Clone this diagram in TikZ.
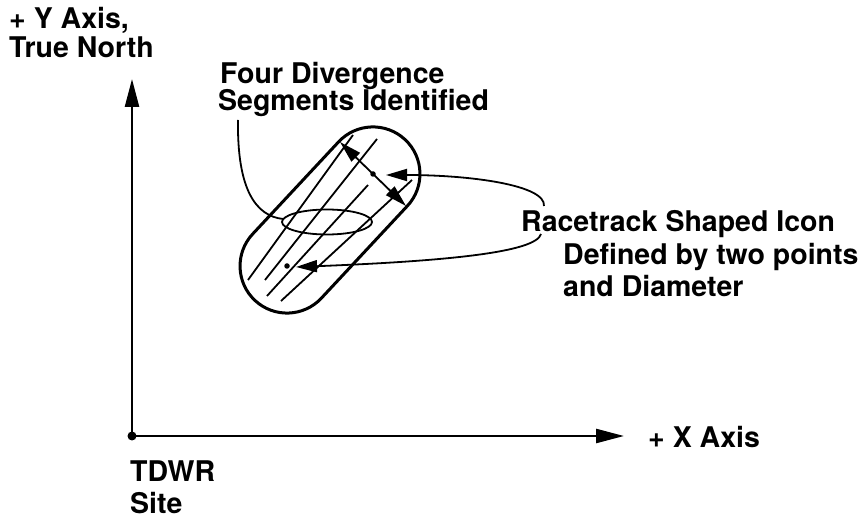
\documentclass[tikz,border=0pt]{standalone}
\usepackage{fontspec}
\setmainfont{TeX Gyre Heros}
\usetikzlibrary{arrows.meta}
\begin{document}
\begin{tikzpicture}[x=1pt,y=-1pt,
  lbl/.style={anchor=base west,inner sep=0pt,font=\fontsize{28.5}{30}\selectfont\bfseries},
  axis/.style={line width=2.5pt,-{Triangle[length=28pt,width=14pt]}},
  hatch/.style={line width=1.8pt},
  callout/.style={line width=1.8pt},
  ptr/.style={line width=1.8pt,-{Triangle[length=21pt,width=12pt]}},
  dot/.style={circle,fill=black,inner sep=0pt,minimum size=#1}]
\useasboundingbox (0,0) rectangle (865,518);
% axes
\node[dot=9pt] (O) at (132,436) {};
\coordinate (Ytip) at (132,79);
\coordinate (Xtip) at (624,436);
\draw[axis] (O.center) -- (Ytip);
\draw[axis] (O.center) -- (Xtip);
% racetrack
\coordinate (P1) at (287,266);
\coordinate (P2) at (373,174);
\begin{scope}[shift={(330,220)},rotate=47]
  \draw[line width=3pt,rounded corners=47pt] (-110pt,-47pt) rectangle (110pt,47pt);
\end{scope}
% hatching segments
\draw[hatch] (353,135) -- (248,280);
\draw[hatch] (377,139) -- (265,280);
\draw[hatch] (368,185) -- (267,296);
\draw[hatch] (412,180) -- (281,301);
% ellipse
\draw[line width=1.8pt] (327,222) ellipse [x radius=45pt,y radius=12.5pt];
% diameter arrow
\coordinate (D1) at (340,142);
\coordinate (D2) at (406,206);
\draw[line width=1.8pt,{Triangle[length=22pt,width=12pt]}-{Triangle[length=22pt,width=12pt]}] (D1) -- (D2);
\node[dot=5.5pt] (c2) at (P2) {};
\node[dot=5.5pt] (c1) at (P1) {};
% labels
\node[lbl] (ya1) at (9,29) {+ Y Axis,};
\node[lbl] (ya2) at (9,58) {True North};
\node[lbl] (fd1) at (220,84) {Four Divergence};
\node[lbl] (fd2) at (218,111) {Segments Identified};
\node[lbl] (rt1) at (521,232) {Racetrack Shaped Icon};
\node[lbl] (rt2) at (563,265) {Defined by two points};
\node[lbl] (rt3) at (563,297) {and Diameter};
\node[lbl] (xa) at (648,447) {+ X Axis};
\node[lbl] (td1) at (130,482) {TDWR};
\node[lbl] (td2) at (130,513) {Site};
% callouts
\coordinate (fdS) at (238,120);
\coordinate (elL) at (283,219);
\draw[callout] (fdS) .. controls (237,190) and (256,216) .. (elL);
\coordinate (rtU) at (544,206);
\coordinate (rtL) at (541,234);
\coordinate (A2) at (386,175);
\coordinate (A1) at (296,267);
\draw[ptr] (rtU) .. controls (546,185) and (470,175) .. (A2);
\draw[ptr] (rtL) .. controls (536,252) and (450,261) .. (A1);
\end{tikzpicture}
\end{document}
